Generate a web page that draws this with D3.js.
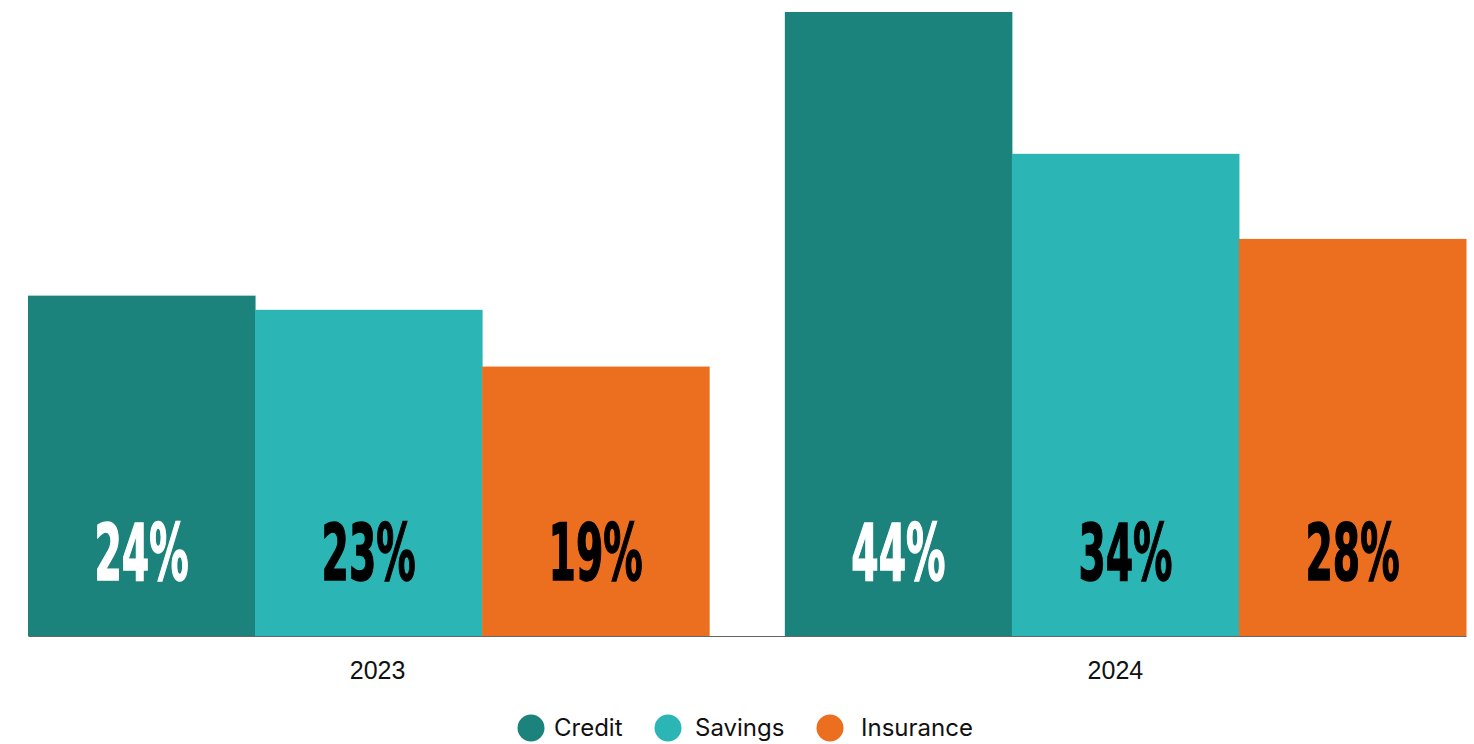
<!DOCTYPE html>
<html><head><meta charset="utf-8">
<script src="https://cdn.jsdelivr.net/npm/d3@7"></script>
<style>body{margin:0;background:#fff}svg{display:block}</style>
</head><body>
<svg id="c" width="1474" height="744"></svg>
<script>
const years = ["2023", "2024"];
const seriesNames = ["Credit", "Savings", "Insurance"];
const credit = [24, 44];
const savings = [23, 34];
const insurance = [19, 28];
const colors = ["#1b837b", "#2cb5b5", "#ec6f1f"];
const labelColors = ["#ffffff", "#000000", "#000000"];

const values = [credit, savings, insurance];
const svg = d3.select("#c");
const x0 = d3.scaleBand().domain(years).range([28, 1466]).paddingInner(0.1).paddingOuter(0);
const x1 = d3.scaleBand().domain(seriesNames).range([0, x0.bandwidth()]);
const y = d3.scaleLinear().domain([0, 44]).range([636, 12]);

const data = [];
years.forEach((yr, i) => seriesNames.forEach((s, j) => data.push({yr, s, j, v: values[j][i]})));

const g = svg.append("g");
g.selectAll("rect").data(data).join("rect")
  .attr("x", d => x0(d.yr) + x1(d.s))
  .attr("y", d => y(d.v))
  .attr("width", x1.bandwidth() + 0.5)
  .attr("height", d => y(0) - y(d.v))
  .attr("fill", d => colors[d.j]);

g.selectAll("text.lbl").data(data).join("text").attr("class", "lbl")
  .attr("transform", d => `translate(${x0(d.yr) + x1(d.s) + x1.bandwidth()/2},580) scale(0.56,1)`)
  .attr("text-anchor", "middle")
  .attr("font-family", "'DejaVu Sans Condensed','Liberation Sans Narrow',sans-serif")
  .attr("font-weight", "bold")
  .attr("font-size", 78)
  .attr("stroke", d => labelColors[d.j])
  .attr("stroke-width", 1.5)
  .attr("fill", d => labelColors[d.j])
  .text(d => d.v + "%");

const ax = svg.append("g").attr("transform", "translate(0,636)")
  .call(d3.axisBottom(x0).tickSize(0).tickPadding(25));
ax.select(".domain").attr("stroke", "#666").attr("stroke-width", 1.2);
ax.selectAll("text").attr("font-family", "'Liberation Sans', Arial, sans-serif").attr("font-size", 25).attr("fill", "#111")
  .attr("dx", (d, i) => i === 0 ? 9 : -10);

const legX = [531, 668, 830];
const leg = svg.append("g").selectAll("g").data(seriesNames).join("g")
  .attr("transform", (d, i) => `translate(${legX[i]},728)`);
leg.append("circle").attr("r", 13.5).attr("fill", (d, i) => colors[i]);
leg.append("text").attr("x", (d, i) => i === 2 ? 31 : (i === 1 ? 27 : 23)).attr("dy", "0.35em")
  .attr("font-family", "Inter, sans-serif").attr("font-size", 24).attr("fill", "#111")
  .text(d => d);
</script>
</body></html>
